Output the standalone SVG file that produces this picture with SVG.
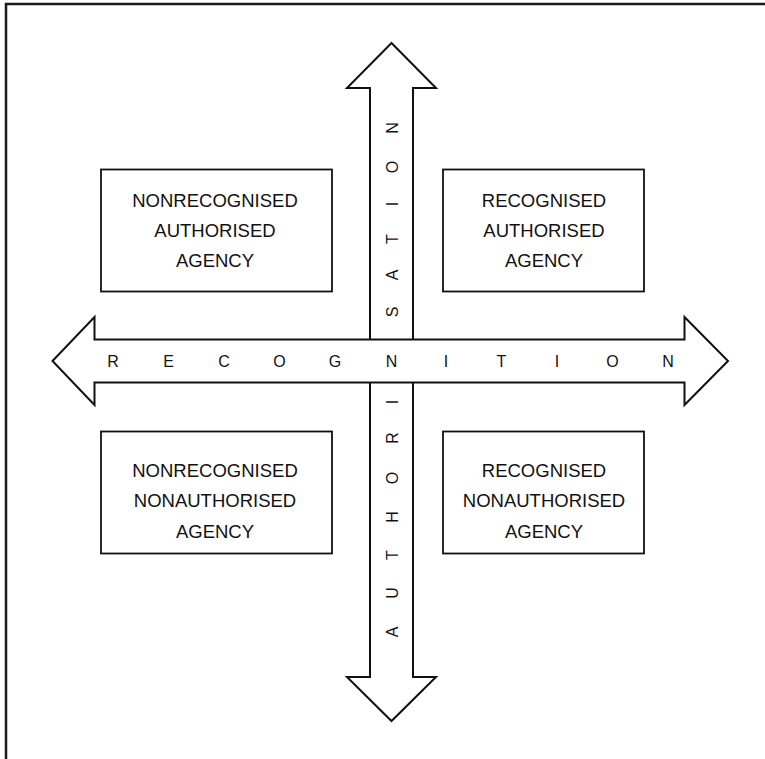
<svg xmlns="http://www.w3.org/2000/svg" width="765" height="759" viewBox="0 0 765 759">
<style>
.frame{fill:none;stroke:#1a1a1a;stroke-width:2.5}
.arrow{fill:#fff;stroke:#111;stroke-width:2;stroke-linejoin:miter}
.box{fill:#fff;stroke:#111;stroke-width:1.8}
.bt{font-family:"Liberation Sans",Arial,sans-serif;font-size:18.5px;fill:#111;text-anchor:middle}
.lt{font-family:"Liberation Sans",Arial,sans-serif;font-size:16px;fill:#111;text-anchor:middle;dominant-baseline:central}
</style>
<rect class="frame" x="6" y="4" width="800" height="800"/>
<g id="connectors">
<polygon id="vertical-arrow" class="arrow" points="391.5,43 347,88 370,88 370,677 347,677 391.5,721 436,677 413,677 413,88 436,88"/>
<polygon id="horizontal-arrow" class="arrow" points="52.5,361 94.5,317 94.5,339.5 684.5,339.5 684.5,317 728,361 684.5,405 684.5,382.5 94.5,382.5 94.5,405"/>
</g>
<g id="label-recognition">
<text class="lt" x="113" y="361">R</text>
<text class="lt" x="168.5" y="361">E</text>
<text class="lt" x="224" y="361">C</text>
<text class="lt" x="279.5" y="361">O</text>
<text class="lt" x="335" y="361">G</text>
<text class="lt" x="391.5" y="361">N</text>
<text class="lt" x="446" y="361">I</text>
<text class="lt" x="501.5" y="361">T</text>
<text class="lt" x="557" y="361">I</text>
<text class="lt" x="612.5" y="361">O</text>
<text class="lt" x="668" y="361">N</text>
</g>
<g id="label-authorisation">
<text class="lt" transform="translate(392,632) rotate(-90)">A</text>
<text class="lt" transform="translate(392,593) rotate(-90)">U</text>
<text class="lt" transform="translate(392,555) rotate(-90)">T</text>
<text class="lt" transform="translate(392,517) rotate(-90)">H</text>
<text class="lt" transform="translate(392,478) rotate(-90)">O</text>
<text class="lt" transform="translate(392,438) rotate(-90)">R</text>
<text class="lt" transform="translate(392,402) rotate(-90)">I</text>
<text class="lt" transform="translate(392,312) rotate(-90)">S</text>
<text class="lt" transform="translate(392,275) rotate(-90)">A</text>
<text class="lt" transform="translate(392,239) rotate(-90)">T</text>
<text class="lt" transform="translate(392,204) rotate(-90)">I</text>
<text class="lt" transform="translate(392,167) rotate(-90)">O</text>
<text class="lt" transform="translate(392,128) rotate(-90)">N</text>
</g>
<g id="nonrecognised-authorised">
<rect class="box" x="101" y="169.5" width="231" height="122"/>
<text class="bt" x="215" y="207">NONRECOGNISED</text>
<text class="bt" x="215" y="237">AUTHORISED</text>
<text class="bt" x="215" y="267">AGENCY</text>
</g>
<g id="recognised-authorised">
<rect class="box" x="443" y="169.5" width="201" height="122"/>
<text class="bt" x="544" y="207">RECOGNISED</text>
<text class="bt" x="544" y="237">AUTHORISED</text>
<text class="bt" x="544" y="267">AGENCY</text>
</g>
<g id="nonrecognised-nonauthorised">
<rect class="box" x="101" y="431.5" width="231" height="122"/>
<text class="bt" x="215" y="477">NONRECOGNISED</text>
<text class="bt" x="215" y="507">NONAUTHORISED</text>
<text class="bt" x="215" y="538">AGENCY</text>
</g>
<g id="recognised-nonauthorised">
<rect class="box" x="443" y="431.5" width="201" height="122"/>
<text class="bt" x="544" y="477">RECOGNISED</text>
<text class="bt" x="544" y="507">NONAUTHORISED</text>
<text class="bt" x="544" y="538">AGENCY</text>
</g>
</svg>
